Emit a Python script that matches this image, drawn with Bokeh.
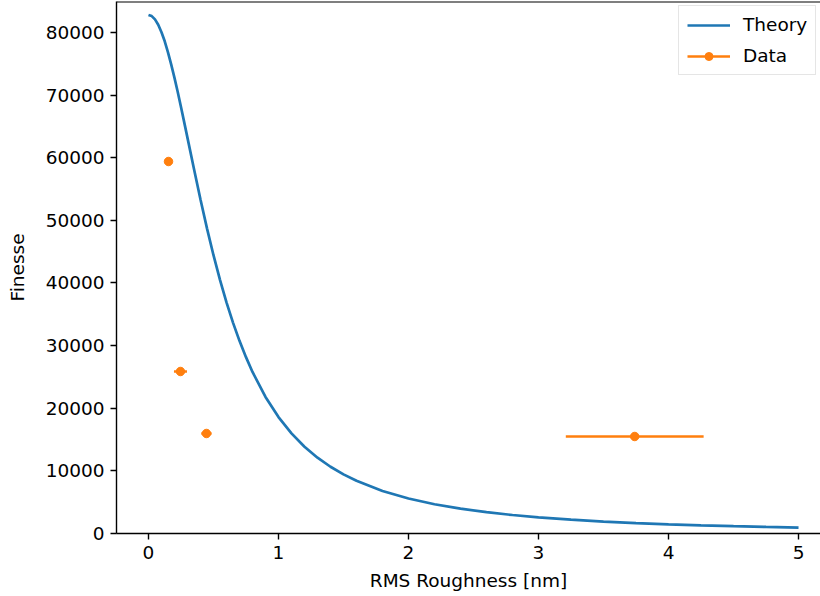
from bokeh.plotting import figure
from bokeh.models import Range1d, FixedTicker, NumeralTickFormatter, Legend, LegendItem, Span
from bokeh.embed import file_html
from bokeh.resources import INLINE

# Theory curve
theory_x = [0.0, 0.025, 0.05, 0.075, 0.1, 0.125, 0.15, 0.175, 0.2, 0.225, 0.25, 0.275, 0.3,
            0.35, 0.4, 0.45, 0.5, 0.55, 0.6, 0.65, 0.7, 0.75, 0.8, 0.9,
            1.0, 1.1, 1.2, 1.3, 1.4, 1.5, 1.6, 1.8, 2.0, 2.2, 2.4, 2.6, 2.8, 3.0, 3.25,
            3.5, 3.75, 4.0, 4.25, 4.5, 4.75, 5.0]
theory_y = [82800, 82620, 82090, 81240, 80040, 78590, 76830, 74870, 72750, 70490, 68100,
            65650, 63170, 58190, 53330, 48730, 44440, 40500, 36910, 33680, 30760, 28160,
            25800, 21810, 18590, 15990, 13860, 12110, 10660, 9440, 8410, 6790, 5590, 4670,
            3960, 3400, 2950, 2580, 2210, 1910, 1670, 1470, 1310, 1170, 1050, 950]

# Measured data
data_x = [0.154, 0.246, 0.446, 3.74]
data_y = [59400, 25870, 15970, 15490]
data_xerr = [0.01, 0.05, 0.04, 0.53]

x_ticks = [0, 1, 2, 3, 4, 5]
y_ticks = [0, 10000, 20000, 30000, 40000, 50000, 60000, 70000, 80000]

BLUE = "#1f77b4"
ORANGE = "#ff7f0e"
FONT = "DejaVu Sans"
FS = "18.5px"
Y_END = 84950

p = figure(width=820, height=596, output_backend="svg", toolbar_location=None,
           x_range=Range1d(-0.246, 5.169), y_range=Range1d(0, Y_END),
           min_border_left=116, min_border_right=0, min_border_top=1, min_border_bottom=63)
p.outline_line_color = None
p.grid.visible = False
p.background_fill_color = "white"
p.border_fill_color = "white"

# top spine
p.add_layout(Span(location=Y_END, dimension="width", line_color="black", line_width=2))

theory = p.line(theory_x, theory_y, line_color=BLUE, line_width=2.7)

x0 = [x - e for x, e in zip(data_x, data_xerr)]
x1 = [x + e for x, e in zip(data_x, data_xerr)]
err = p.segment(x0=x0, y0=data_y, x1=x1, y1=data_y, line_color=ORANGE, line_width=2.7)
pts = p.scatter(data_x, data_y, size=8.5, fill_color=ORANGE, line_color=ORANGE)

for ax in (p.xaxis[0], p.yaxis[0]):
    ax.axis_line_width = 1.4
    ax.axis_line_color = "black"
    ax.major_tick_line_width = 1.4
    ax.major_tick_line_color = "black"
    ax.major_tick_out = 6
    ax.major_tick_in = 0
    ax.minor_tick_line_color = None
    ax.major_label_text_font = FONT
    ax.major_label_text_font_size = FS
    ax.major_label_text_color = "black"
    ax.axis_label_text_font = FONT
    ax.axis_label_text_font_size = FS
    ax.axis_label_text_font_style = "normal"
    ax.axis_label_text_color = "black"
    ax.major_label_standoff = 6

p.xaxis.ticker = FixedTicker(ticks=x_ticks)
p.yaxis.ticker = FixedTicker(ticks=y_ticks)
p.yaxis.formatter = NumeralTickFormatter(format="0")
p.xaxis.axis_label = "RMS Roughness [nm]"
p.yaxis.axis_label = "Finesse"
p.xaxis.axis_label_standoff = 8
p.yaxis.axis_label_standoff = 15

legend = Legend(items=[LegendItem(label="Theory", renderers=[theory]),
                       LegendItem(label="Data", renderers=[err, pts])],
                location=(562, 458))
legend.label_text_font = FONT
legend.label_text_font_size = FS
legend.label_text_color = "black"
legend.glyph_width = 43
legend.glyph_height = 20
legend.label_height = 20
legend.label_standoff = 13
legend.padding = 8
legend.spacing = 10
legend.margin = 0
legend.border_line_color = "#cccccc"
legend.border_line_width = 1
legend.background_fill_alpha = 0.8
p.add_layout(legend)

open("out.html", "w").write(file_html(p, INLINE))
